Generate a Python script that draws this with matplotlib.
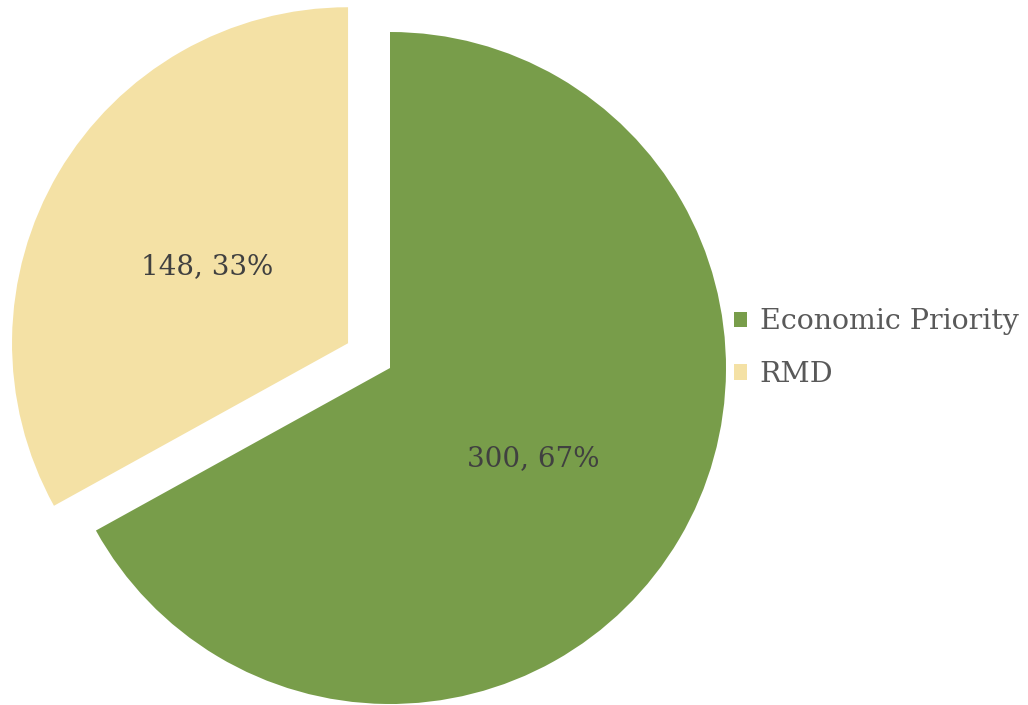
import matplotlib
matplotlib.use("Agg")
import matplotlib.pyplot as plt

labels = ["Economic Priority", "RMD"]
counts = [300, 148]
colors = ["#789d4a", "#f4e1a5"]
explode = [0, 0.145]

plt.rcParams['font.family'] = ['DejaVu Serif']

fig = plt.figure(figsize=(10.28, 7.05), dpi=100)
# pie centre at (390, 368) px, radius 336 px
ax = fig.add_axes([(390 - 336) / 1028, (705 - 368 - 336) / 705, 672 / 1028, 672 / 705])

total = sum(counts)
def fmt(p):
    return "%d, %d%%" % (round(p * total / 100), round(p))

wedges, texts, autotexts = ax.pie(counts, colors=colors, explode=explode,
                                  startangle=90, counterclock=False,
                                  autopct=fmt, pctdistance=0.49, radius=1,
                                  wedgeprops=dict(linewidth=0))
for w in wedges:
    w.set_clip_on(False)
for t in autotexts:
    t.set_fontsize(20)
    t.set_color("#404040")
    x, y = t.get_position()
    t.set_position((x + 0.003, y - 0.02))

ax.set_xlim(-1, 1)
ax.set_ylim(-1, 1)
ax.set_aspect("equal")
ax.axis("off")

leg = fig.legend(wedges, labels, loc="center left", bbox_to_anchor=(0.714, 0.506),
                 frameon=False, fontsize=20.5, handlelength=0.45, handleheight=0.45,
                 handletextpad=0.45, labelspacing=0.9, borderpad=0, borderaxespad=0,
                 labelcolor="#595959")

fig.savefig("out.png", dpi=100)
